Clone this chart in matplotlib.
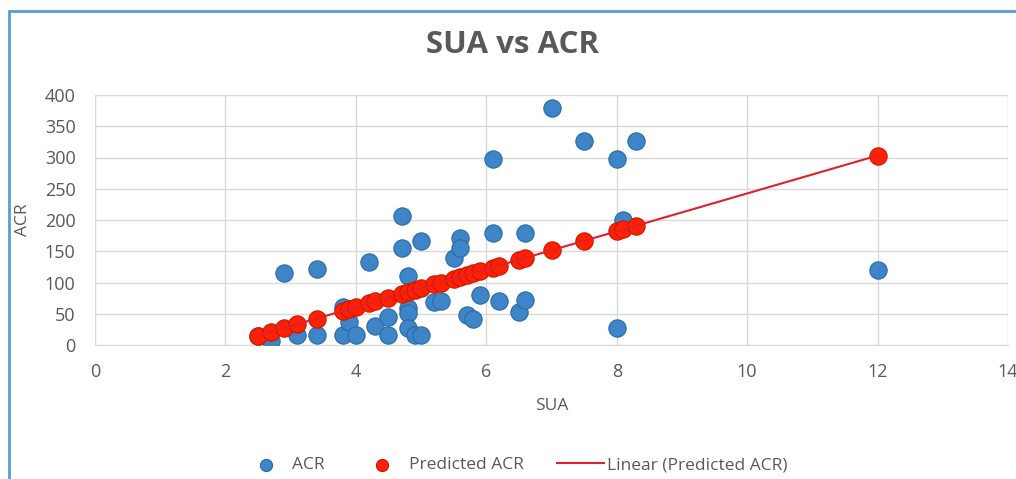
import numpy as np
import matplotlib.pyplot as plt
from matplotlib.patches import Rectangle

# observed values (SUA, ACR)
sua = [2.5, 2.7, 2.9, 3.1, 3.4, 3.4, 3.8, 3.8, 3.9, 4.0, 4.2, 4.3, 4.5, 4.5,
       4.7, 4.7, 4.8, 4.8, 4.8, 4.8, 4.9, 5.0, 5.0, 5.2, 5.3, 5.5, 5.6, 5.6,
       5.7, 5.8, 5.9, 6.1, 6.1, 6.2, 6.5, 6.6, 6.6, 7.0, 7.5, 8.0, 8.0, 8.1,
       8.3, 12.0]
acr = [14, 6, 116, 16, 122, 16, 16, 61, 37, 16, 133, 30, 45, 16,
       206, 156, 111, 60, 51, 27, 16, 166, 16, 69, 70, 140, 172, 156,
       48, 42, 80, 298, 180, 70, 53, 180, 72, 380, 327, 298, 27, 200,
       327, 120]

# predicted values
pred_x = [2.5, 2.7, 2.9, 3.1, 3.4, 3.8, 3.9, 4.0, 4.2, 4.3, 4.5, 4.7, 4.8,
          4.9, 5.0, 5.2, 5.3, 5.5, 5.6, 5.7, 5.8, 5.9, 6.1, 6.2, 6.5, 6.6,
          7.0, 7.5, 8.0, 8.1, 8.3, 12.0]
pred_y = [15, 21, 27, 33, 42, 55, 58, 61, 67, 70, 76, 82, 85,
          88, 91, 97, 100, 106, 109, 112, 115, 118, 124, 127, 136, 139,
          152, 167, 182, 185, 191, 303]

txt = '#595959'
plt.rcParams['font.family'] = ['Open Sans', 'DejaVu Sans']

fig = plt.figure(figsize=(10.16, 4.79), dpi=100)
W, H = 1016, 479
ax = fig.add_axes([95 / W, 1 - 345 / H, (1008 - 95) / W, (345 - 95) / H])

ax.scatter(sua, acr, s=155, color='#3d85c6', edgecolor='#2a6aa6',
           linewidth=0.8, zorder=3, label='ACR')
ax.scatter(pred_x, pred_y, s=155, color='#ff2200', edgecolor='#cc1400',
           linewidth=0.8, zorder=4, label='Predicted ACR')

# linear trendline on the predicted series
k, b = np.polyfit(pred_x, pred_y, 1)
tx = np.array([min(pred_x), max(pred_x)])
ax.plot(tx, k * tx + b, color='#e0202a', lw=1.5, zorder=5,
        label='Linear (Predicted ACR)')

ax.set_xlim(0, 14)
ax.set_ylim(0, 400)
ax.set_xticks(range(0, 15, 2))
ax.set_yticks(range(0, 401, 50))
ax.grid(True, color='#d9d9d9', lw=1)
ax.set_axisbelow(True)
for s in ['top', 'right', 'left']:
    ax.spines[s].set_visible(False)
ax.spines['bottom'].set_color('#d9d9d9')
ax.tick_params(length=0, labelsize=13, colors=txt, pad=13)
ax.tick_params(axis='y', pad=14)
ax.set_xlabel('SUA', fontsize=12.5, color=txt, labelpad=12)
ax.set_ylabel('ACR', fontsize=12.5, color=txt, labelpad=10)

fig.text(512 / W, 1 - 45 / H, 'SUA vs ACR', ha='center', va='center',
         fontsize=22.5, fontweight='bold', color=txt)

fig.legend(loc='center', bbox_to_anchor=(515 / W, 1 - 465 / H), ncol=3,
           frameon=False, fontsize=12.5, labelcolor=txt, handlelength=2.7,
           handletextpad=0.17, columnspacing=1.95, markerscale=0.7)

# blue chart frame
fig.patches.append(Rectangle((9 / W, -0.1), 1.2, 1 - 11 / H + 0.1,
                             transform=fig.transFigure, fill=False,
                             edgecolor='#5b9bd5', lw=2))

fig.savefig('out.png', dpi=100)
